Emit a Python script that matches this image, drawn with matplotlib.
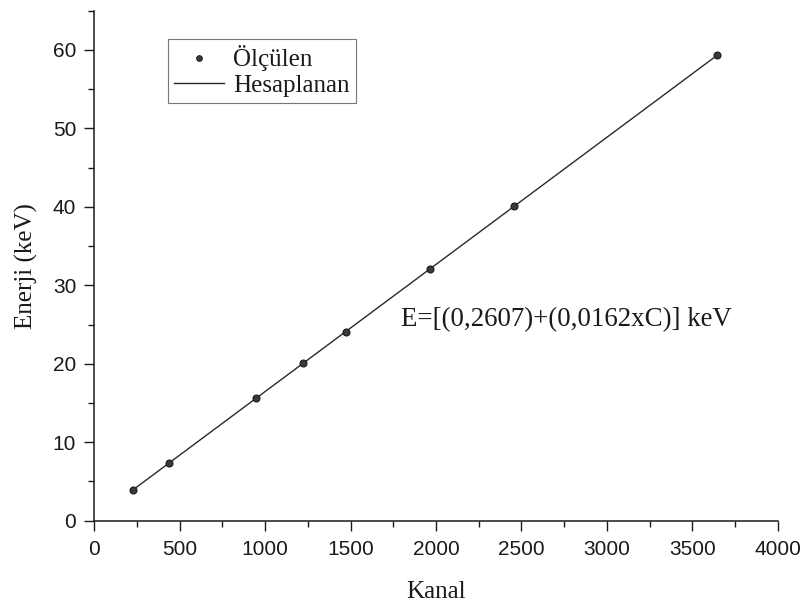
import numpy as np
import matplotlib
matplotlib.use("Agg")
import matplotlib.pyplot as plt
from matplotlib.ticker import MultipleLocator

# Measured calibration peaks: channel number and energy (keV)
channels = [227, 435, 949, 1221, 1471, 1966, 2456, 3645]
energies = [3.94, 7.31, 15.63, 20.04, 24.09, 32.11, 40.05, 59.31]

# Linear calibration E = a + b*C
intercept = 0.2607
slope = 0.0162

x_ticks = [0, 500, 1000, 1500, 2000, 2500, 3000, 3500, 4000]
y_ticks = [0, 10, 20, 30, 40, 50, 60]

serif = ["Liberation Serif", "DejaVu Serif"]
sans = ["Liberation Sans", "DejaVu Sans"]

fig = plt.figure(figsize=(8.05, 6.04), dpi=100)
ax = fig.add_axes([0.1171, 0.1379, 0.8490, 0.8444])

c_line = np.linspace(channels[0], channels[-1], 200)
e_line = intercept + slope * c_line

ax.plot(c_line, e_line, color="#2a2a2a", lw=1.0, label="Hesaplanan", zorder=2)
ax.plot(channels, energies, linestyle="none", marker="o", ms=5,
        mfc="#3a3a3a", mec="#1a1a1a", mew=0.8, label="Ölçülen", zorder=3)

ax.set_xlim(0, 4000)
ax.set_ylim(0, 65)
ax.set_xticks(x_ticks)
ax.set_yticks(y_ticks)
ax.xaxis.set_minor_locator(MultipleLocator(250))
ax.yaxis.set_minor_locator(MultipleLocator(5))

for s in ["top", "right"]:
    ax.spines[s].set_visible(False)
for s in ["left", "bottom"]:
    ax.spines[s].set_linewidth(1.1)
    ax.spines[s].set_color("#1a1a1a")

ax.tick_params(which="major", direction="out", length=7, width=1.0,
               color="#1a1a1a")
ax.tick_params(axis="y", which="major", pad=6)
ax.tick_params(axis="x", which="major", pad=7)
ax.tick_params(which="minor", direction="out", length=4, width=1.0,
               color="#1a1a1a")
for lab in ax.get_xticklabels() + ax.get_yticklabels():
    lab.set_family(sans)
    lab.set_fontsize(15)
    lab.set_color("#1a1a1a")

ax.set_xlabel("Kanal", family=serif, fontsize=18, color="#1a1a1a", labelpad=16)
ax.set_ylabel("Enerji (keV)", family=serif, fontsize=18, color="#1a1a1a", labelpad=11)

ax.text(401 / 805, 1 - 320 / 604, "E=[(0,2607)+(0,0162xC)] keV",
        transform=fig.transFigure, family=serif, fontsize=19.4,
        color="#1a1a1a", va="center", ha="left")

handles, labels = ax.get_legend_handles_labels()
leg = ax.legend(handles[::-1], labels[::-1],
                loc="upper left", bbox_to_anchor=(168 / 805, 1 - 39 / 604),
                bbox_transform=fig.transFigure,
                prop={"family": serif, "size": 18},
                frameon=True, fancybox=False, edgecolor="#555555",
                handlelength=2.0, handletextpad=0.35, labelspacing=0.12,
                borderpad=0.25, borderaxespad=0, markerscale=0.8)
leg.get_frame().set_linewidth(0.8)
for t in leg.get_texts():
    t.set_color("#1a1a1a")

fig.savefig("out.png", dpi=100, facecolor="white")
